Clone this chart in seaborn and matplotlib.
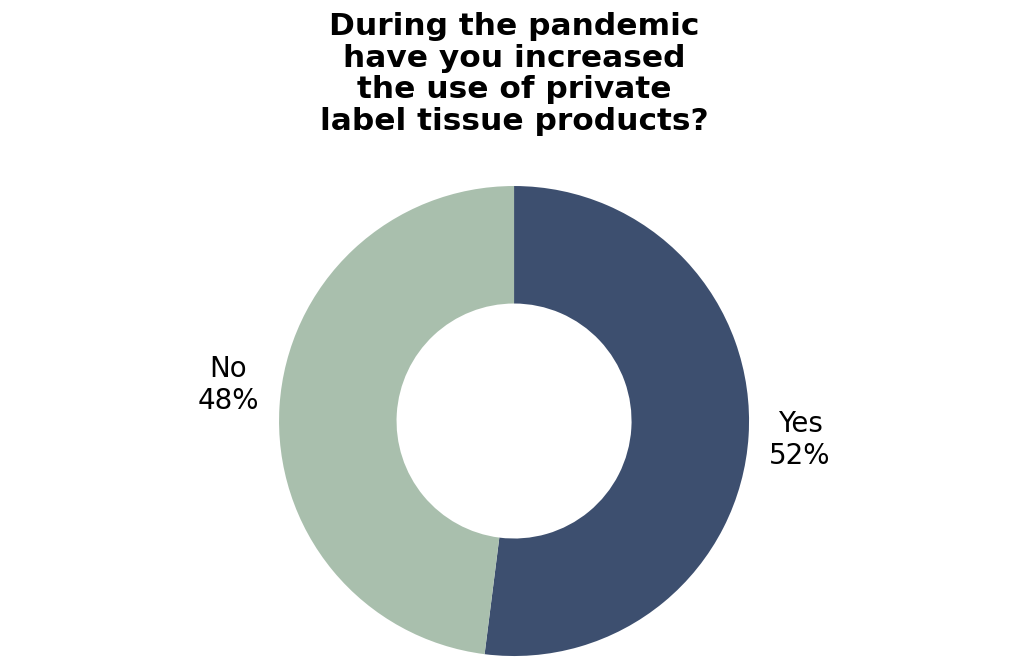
import matplotlib
matplotlib.use('Agg')
import matplotlib.pyplot as plt
import seaborn as sns

# dados
respostas = ['Yes', 'No']
percentuais = [52, 48]
cores = sns.color_palette(['#3d4f6f', '#a9bfad'])

titulo = ('During the pandemic\nhave you increased\n'
          'the use of private\nlabel tissue products?')

sns.set_theme(style='white')
plt.rcParams['font.family'] = ['DejaVu Sans']

fig = plt.figure(figsize=(10.24, 6.58), dpi=100)
# eixo quadrado para a rosca (centro ~ (514, 421) px, raio ~235 px)
ax = fig.add_axes([0.2725, 0.003, 0.459, 0.7143])

ax.pie(percentuais, colors=cores, startangle=90, counterclock=False,
       radius=1, wedgeprops=dict(width=0.5, linewidth=0))
ax.set_xlim(-1, 1)
ax.set_ylim(-1, 1)
ax.set_aspect('equal')
ax.axis('off')

# rótulos das fatias
posicoes = {'Yes': (1.217, -0.081), 'No': (-1.217, 0.153)}
for resposta, valor in zip(respostas, percentuais):
    x, y = posicoes[resposta]
    ax.text(x, y, f'{resposta}\n{valor}%', ha='center', va='center',
            fontsize=20, color='black', multialignment='center',
            linespacing=1.15, clip_on=False)

fig.text(0.502, 0.982, titulo, ha='center', va='top', fontsize=22.5,
         fontweight='bold', color='black', linespacing=1.12)

fig.savefig('out.png', dpi=100, facecolor='white')
